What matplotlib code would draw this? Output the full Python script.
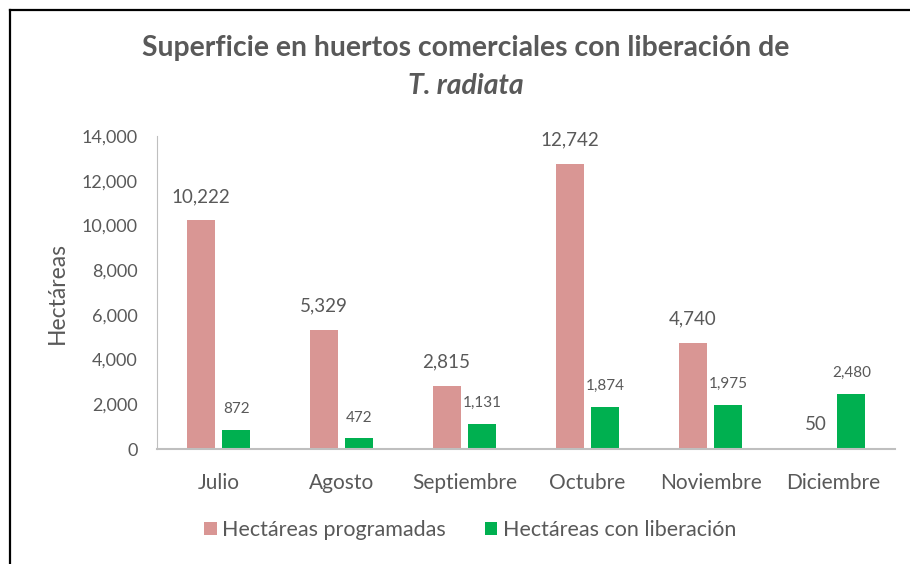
import matplotlib
matplotlib.use("Agg")
import matplotlib.pyplot as plt
from matplotlib.lines import Line2D
import numpy as np

meses = ["Julio", "Agosto", "Septiembre", "Octubre", "Noviembre", "Diciembre"]
programadas = [10222, 5329, 2815, 12742, 4740, 50]
liberacion = [872, 472, 1131, 1874, 1975, 2480]

rosa = "#D99694"
verde = "#00B050"
gris = "#595959"

plt.rcParams['font.family'] = ['Lato', 'DejaVu Sans']

fig = plt.figure(figsize=(9.1, 5.64), dpi=100)
W, H = 910, 564
ax = fig.add_axes([157 / W, (H - 449) / H, (895 - 157) / W, (449 - 136) / H])

x = np.arange(len(meses))
ancho = 0.228
desp = 0.146
b1 = ax.bar(x - desp, programadas, ancho, color=rosa, label="Hectáreas programadas")
b2 = ax.bar(x + desp, liberacion, ancho, color=verde, label="Hectáreas con liberación")

# etiquetas de datos
for xi, v in zip(x, programadas):
    ax.annotate(f"{v:,}", (xi - desp, v), xytext=(0, 11), textcoords="offset points",
                ha="center", va="bottom", fontsize=13.5, color=gris)
for xi, v in zip(x, liberacion):
    ax.annotate(f"{v:,}", (xi + desp, v), xytext=(0, 10), textcoords="offset points",
                ha="center", va="bottom", fontsize=11, color=gris)

ax.set_xlim(-0.5, len(meses) - 0.5)
ax.set_ylim(0, 14000)
ax.set_yticks(range(0, 14001, 2000))
ax.set_yticklabels([f"{t:,}" for t in range(0, 14001, 2000)])
ax.set_xticks(x)
ax.set_xticklabels(meses)
ax.tick_params(axis="y", length=0, colors=gris, labelsize=13, pad=14)
ax.tick_params(axis="x", length=0, colors=gris, labelsize=15, pad=17)

for s in ["top", "right"]:
    ax.spines[s].set_visible(False)
ax.spines["left"].set_color("#BFBFBF")
ax.spines["bottom"].set_color("#BFBFBF")
ax.spines["bottom"].set_linewidth(1.5)

ax.set_ylabel("Hectáreas", fontsize=16.5, color=gris, labelpad=10)

fig.text(466 / W, 1 - 48 / H, "Superficie en huertos comerciales con liberación de",
         ha="center", va="center", fontsize=20.4, fontweight="bold", color=gris)
fig.text(466 / W, 1 - 86 / H, "T. radiata",
         ha="center", va="center", fontsize=20.4, fontweight="bold", style="italic", color=gris)

fig.legend(handles=[b1, b2], loc="center", bbox_to_anchor=(470 / W, 1 - 530 / H),
           ncol=2, frameon=False, fontsize=15.5, labelcolor=gris,
           handlelength=0.6, handleheight=0.6, handletextpad=0.25, columnspacing=1.8)

# borde del recuadro
fig.add_artist(Line2D([10 / W, 10 / W], [0, 1 - 10 / H], color="black", lw=1.6, transform=fig.transFigure))
fig.add_artist(Line2D([10 / W, 1], [1 - 10 / H, 1 - 10 / H], color="black", lw=1.6, transform=fig.transFigure))

fig.savefig("out.png", dpi=100)
